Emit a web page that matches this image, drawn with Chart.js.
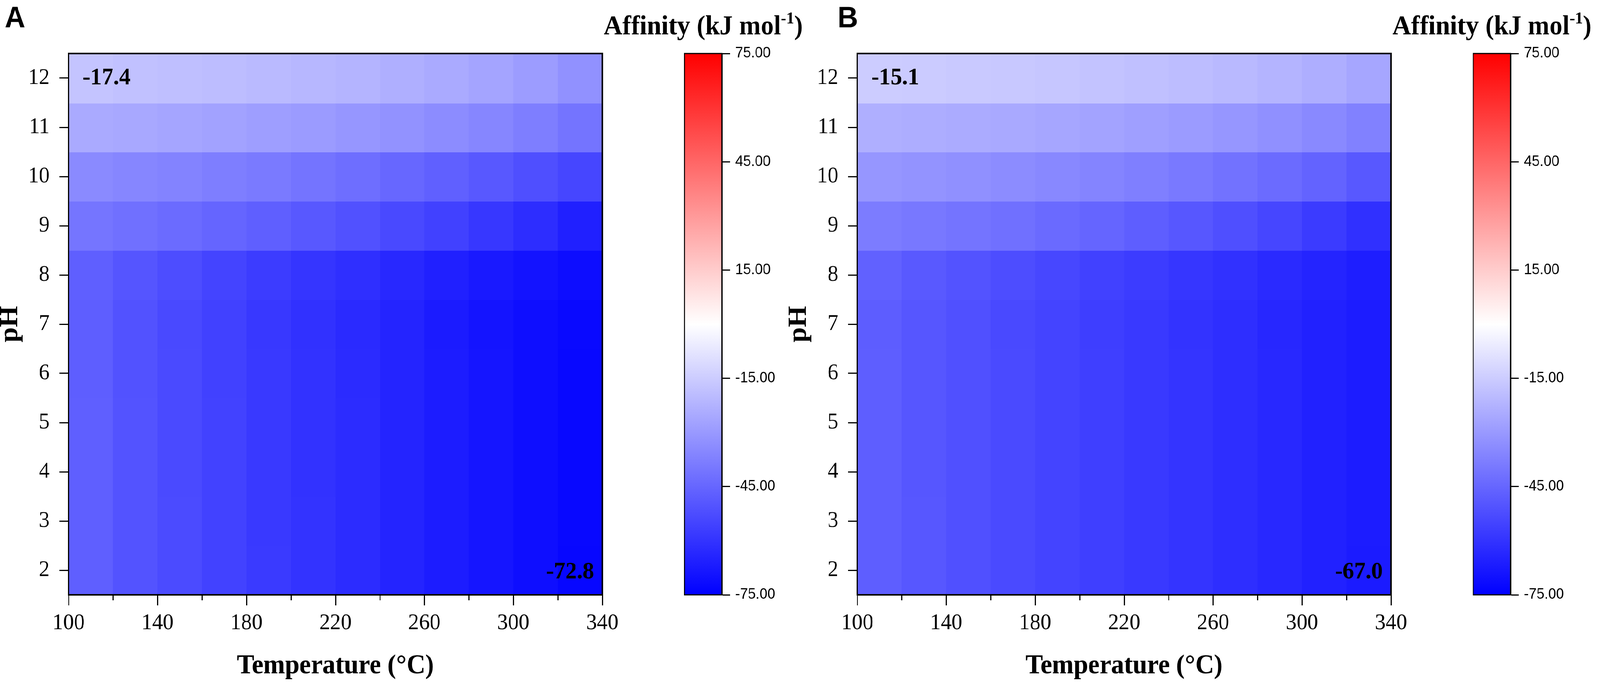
<!DOCTYPE html>
<html>
<head>
<meta charset="utf-8">
<script src="https://cdn.jsdelivr.net/npm/chart.js@4.4.1/dist/chart.umd.min.js"></script>
<style>
  html, body { margin: 0; padding: 0; background: #fff; overflow: hidden; }
  #page { width: 4317px; height: 1759px; position: relative; transform-origin: 0 0; }
  #page canvas { position: absolute; top: 0; }
</style>
</head>
<body>
<div id="page">
  <canvas id="heatA" width="1700" height="1759" style="left:0px"></canvas>
  <canvas id="barA" width="600" height="1759" style="left:1600px"></canvas>
  <canvas id="heatB" width="1700" height="1759" style="left:2128px"></canvas>
  <canvas id="barB" width="589" height="1759" style="left:3728px"></canvas>
</div>
<script>
// temperature columns (cell centres, 20 °C wide) and pH rows
const tempCentres = [110, 130, 150, 170, 190, 210, 230, 250, 270, 290, 310, 330];
const pHLevels = [2, 3, 4, 5, 6, 7, 8, 9, 10, 11, 12];

const tempTicks = [100, 140, 180, 220, 260, 300, 340];
const tempMinorTicks = [120, 160, 200, 240, 280, 320];
const pHTicks = [2, 3, 4, 5, 6, 7, 8, 9, 10, 11, 12];
const barTicks = [-75, -45, -15, 15, 45, 75];

// affinity (kJ/mol), one row per pH, from pH 2 up to pH 12
const affinityA = [
  [-47.0, -50.5, -53.0, -55.5, -58.0, -60.1, -62.2, -64.3, -66.8, -68.9, -71.0, -72.8],
  [-47.0, -50.5, -53.0, -55.6, -58.1, -60.1, -62.2, -64.3, -66.8, -68.9, -71.0, -72.7],
  [-47.1, -50.6, -53.1, -55.6, -58.1, -60.2, -62.2, -64.3, -66.8, -68.9, -70.9, -72.7],
  [-47.2, -50.7, -53.2, -55.7, -58.2, -60.2, -62.2, -64.3, -66.8, -68.9, -70.9, -72.6],
  [-47.3, -50.8, -53.3, -55.8, -58.3, -60.3, -62.3, -64.4, -66.9, -68.9, -70.9, -72.5],
  [-47.5, -51.0, -53.5, -56.0, -58.5, -60.5, -62.5, -64.5, -67.0, -69.0, -71.0, -72.4],
  [-47.0, -50.0, -52.5, -55.0, -57.3, -59.3, -61.2, -63.2, -65.5, -67.5, -69.5, -71.3],
  [-40.5, -42.0, -43.6, -45.3, -47.1, -49.0, -51.1, -53.4, -55.9, -58.7, -61.9, -65.5],
  [-34.5, -35.5, -36.6, -37.8, -39.2, -40.8, -42.6, -44.6, -46.8, -49.2, -51.8, -54.5],
  [-25.0, -25.7, -26.5, -27.4, -28.4, -29.5, -30.8, -32.2, -33.8, -35.7, -38.0, -41.0],
  [-17.4, -18.1, -18.7, -19.4, -20.2, -21.1, -22.2, -23.5, -25.0, -26.8, -29.2, -32.5]
];

const affinityB = [
  [-47.3, -49.5, -51.4, -53.2, -54.9, -56.5, -58.1, -59.8, -61.5, -63.3, -65.2, -67.0],
  [-47.3, -49.5, -51.4, -53.2, -54.9, -56.5, -58.1, -59.8, -61.5, -63.3, -65.2, -66.9],
  [-47.4, -49.6, -51.4, -53.2, -54.9, -56.6, -58.2, -59.8, -61.5, -63.3, -65.2, -66.9],
  [-47.4, -49.6, -51.5, -53.3, -55.0, -56.6, -58.2, -59.8, -61.5, -63.3, -65.2, -66.8],
  [-47.5, -49.7, -51.5, -53.3, -55.0, -56.6, -58.2, -59.8, -61.5, -63.3, -65.2, -66.8],
  [-47.6, -49.8, -51.6, -53.4, -55.1, -56.7, -58.3, -59.9, -61.6, -63.4, -65.2, -66.7],
  [-46.5, -48.8, -50.7, -52.5, -54.2, -55.8, -57.4, -59.0, -60.7, -62.5, -64.4, -66.2],
  [-38.5, -39.6, -40.8, -42.2, -43.7, -45.4, -47.3, -49.4, -51.8, -54.5, -57.6, -61.0],
  [-31.0, -31.8, -32.7, -33.7, -34.9, -36.2, -37.7, -39.4, -41.4, -43.6, -46.0, -49.0],
  [-23.5, -24.0, -24.6, -25.3, -26.1, -27.0, -28.1, -29.4, -30.9, -32.6, -34.6, -37.0],
  [-15.1, -15.4, -15.8, -16.3, -16.9, -17.6, -18.4, -19.4, -20.6, -22.0, -23.8, -26.2]
];

const SERIF = "'Liberation Serif', 'Times New Roman', serif";
const SANS = "'Liberation Sans', Arial, sans-serif";
const LIMIT = 75;

// the layout is drawn for 4317x1759; stretch it to whatever window we get
const page = document.getElementById('page');
page.style.transform = `scale(${window.innerWidth / 4317}, ${window.innerHeight / 1759})`;

// blue (-75) -> white (0) -> red (+75)
function cellColour(v) {
  const f = Math.max(0, Math.min(1, 1 - Math.abs(v) / LIMIT));
  const c = Math.round(255 * f);
  return v < 0 ? `rgb(${c},${c},255)` : `rgb(255,${c},${c})`;
}

const heatCells = {
  id: 'heatCells',
  beforeDatasetsDraw(chart) {
    const { ctx, chartArea: a, scales: { x, y } } = chart;
    const half = (tempCentres[1] - tempCentres[0]) / 2;
    ctx.save();
    ctx.beginPath();
    ctx.rect(a.left, a.top, a.width, a.height);
    ctx.clip();
    chart.data.datasets[0].data.forEach(p => {
      const x0 = Math.floor(x.getPixelForValue(p.x - half));
      const x1 = Math.ceil(x.getPixelForValue(p.x + half));
      const y0 = Math.floor(y.getPixelForValue(p.y + 0.5));
      const y1 = Math.ceil(y.getPixelForValue(p.y - 0.5));
      ctx.fillStyle = cellColour(p.v);
      ctx.fillRect(x0, y0, x1 - x0 + 1, y1 - y0 + 1);
    });
    ctx.restore();
  },
  afterDraw(chart, args, opts) {
    const { ctx, chartArea: a, scales: { x, y } } = chart;
    const vals = chart.data.datasets[0].data.map(p => p.v);
    ctx.save();
    ctx.strokeStyle = '#000';
    ctx.lineWidth = 4;
    ctx.strokeRect(a.left, a.top, a.width, a.height);

    // minor ticks on the temperature axis
    ctx.lineWidth = 3;
    tempMinorTicks.forEach(t => {
      const px = Math.round(x.getPixelForValue(t)) + 0.5;
      ctx.beginPath();
      ctx.moveTo(px, a.bottom);
      ctx.lineTo(px, a.bottom + 14);
      ctx.stroke();
    });

    // extreme values written in the corners
    ctx.fillStyle = '#000';
    ctx.font = `bold 62px ${SERIF}`;
    ctx.textBaseline = 'middle';
    ctx.textAlign = 'left';
    ctx.fillText(Math.max(...vals).toFixed(1), a.left + 38, y.getPixelForValue(pHLevels[pHLevels.length - 1]));
    ctx.textAlign = 'right';
    ctx.fillText(Math.min(...vals).toFixed(1), a.right - 22, y.getPixelForValue(pHLevels[0]) + 5);

    // panel letter
    ctx.textAlign = 'left';
    ctx.textBaseline = 'alphabetic';
    ctx.font = `bold 76px ${SANS}`;
    ctx.fillText(opts.letter, opts.letterX, 70);
    ctx.restore();
  }
};

const barFrame = {
  id: 'barFrame',
  afterDraw(chart) {
    const { ctx, chartArea: a } = chart;
    ctx.save();
    ctx.strokeStyle = '#000';
    ctx.lineWidth = 3;
    ctx.strokeRect(a.left, a.top, a.width, a.height);

    const parts = [
      ['Affinity (kJ mol', `bold 70px ${SERIF}`, 0],
      ['-1', `bold 43px ${SERIF}`, -28],
      [')', `bold 70px ${SERIF}`, 0]
    ];
    let total = 0;
    parts.forEach(p => { ctx.font = p[1]; total += ctx.measureText(p[0]).width; });
    let tx = (a.left + a.right) / 2 - total / 2;
    ctx.fillStyle = '#000';
    ctx.textBaseline = 'alphabetic';
    parts.forEach(p => {
      ctx.font = p[1];
      ctx.fillText(p[0], tx, 88 + p[2]);
      tx += ctx.measureText(p[0]).width;
    });
    ctx.restore();
  }
};

function makeHeatmap(id, values, letter, letterX) {
  const points = [];
  pHLevels.forEach((ph, r) => {
    tempCentres.forEach((t, c) => points.push({ x: t, y: ph, v: values[r][c] }));
  });

  return new Chart(document.getElementById(id), {
    type: 'scatter',
    data: { datasets: [{ data: points, pointRadius: 0, pointHoverRadius: 0 }] },
    options: {
      responsive: false,
      animation: false,
      devicePixelRatio: 1,
      layout: { padding: { top: 137, right: 75, left: 0, bottom: 0 } },
      plugins: {
        legend: { display: false },
        tooltip: { enabled: false },
        heatCells: { letter, letterX }
      },
      scales: {
        x: {
          type: 'linear',
          min: tempTicks[0],
          max: tempTicks[tempTicks.length - 1],
          afterBuildTicks: s => { s.ticks = tempTicks.map(v => ({ value: v })); },
          afterFit: s => { s.height = 236; },
          grid: { drawOnChartArea: false, tickLength: 27, tickWidth: 3, tickColor: '#000' },
          border: { color: '#000', width: 4 },
          ticks: {
            autoSkip: false, maxRotation: 0, padding: 11, color: '#000',
            font: { family: SERIF, size: 58 }
          },
          title: {
            display: true, text: 'Temperature (°C)', color: '#000',
            padding: { top: 0, bottom: 11 },
            font: { family: SERIF, size: 70, weight: 'bold' }
          }
        },
        y: {
          type: 'linear',
          min: 1.5,
          max: 12.5,
          afterBuildTicks: s => { s.ticks = pHTicks.map(v => ({ value: v })); },
          afterFit: s => { s.width = 185; },
          grid: { drawOnChartArea: false, tickLength: 25, tickWidth: 3, tickColor: '#000' },
          border: { color: '#000', width: 4 },
          ticks: {
            autoSkip: false, padding: 26, color: '#000',
            font: { family: SERIF, size: 58 }
          },
          title: {
            display: true, text: 'pH', color: '#000',
            padding: 0,
            font: { family: SERIF, size: 70, weight: 'bold', lineHeight: 0.8 }
          }
        }
      }
    },
    plugins: [heatCells]
  });
}

function makeColourBar(id, width) {
  return new Chart(document.getElementById(id), {
    type: 'bar',
    data: {
      labels: [''],
      datasets: [{
        data: [[barTicks[0], barTicks[barTicks.length - 1]]],
        barPercentage: 1,
        categoryPercentage: 1,
        borderWidth: 0,
        backgroundColor: ctx => {
          const a = ctx.chart.chartArea;
          if (!a) return null;
          const g = ctx.chart.ctx.createLinearGradient(0, a.bottom, 0, a.top);
          g.addColorStop(0, cellColour(-LIMIT));
          g.addColorStop(0.5, cellColour(0));
          g.addColorStop(1, cellColour(LIMIT));
          return g;
        }
      }]
    },
    options: {
      responsive: false,
      animation: false,
      devicePixelRatio: 1,
      layout: { padding: { left: 247, top: 137, right: 0, bottom: 236 } },
      plugins: { legend: { display: false }, tooltip: { enabled: false } },
      scales: {
        x: { display: false },
        y: {
          position: 'right',
          min: barTicks[0],
          max: barTicks[barTicks.length - 1],
          afterBuildTicks: s => { s.ticks = barTicks.map(v => ({ value: v })); },
          afterFit: s => { s.width = width - 348; },
          grid: { drawOnChartArea: false, tickLength: 22, tickWidth: 3, tickColor: '#000' },
          border: { color: '#000', width: 3 },
          ticks: {
            padding: 14, color: '#000',
            font: { family: SANS, size: 38 },
            callback: v => Number(v).toFixed(2)
          }
        }
      }
    },
    plugins: [barFrame]
  });
}

makeHeatmap('heatA', affinityA, 'A', 13);
makeColourBar('barA', 600);
makeHeatmap('heatB', affinityB, 'B', 132);
makeColourBar('barB', 589);
</script>
</body>
</html>
